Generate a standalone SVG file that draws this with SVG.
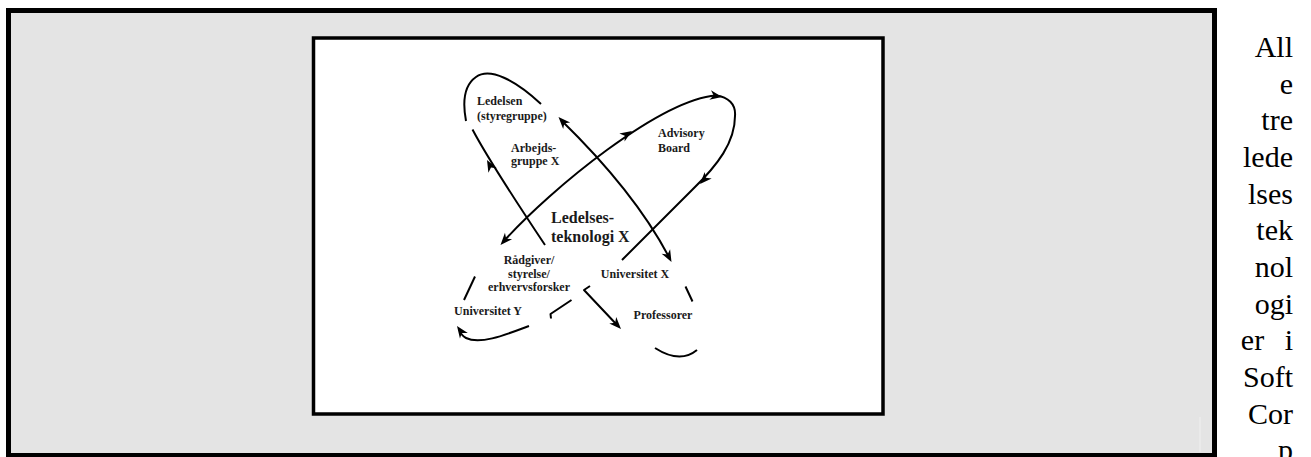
<svg xmlns="http://www.w3.org/2000/svg" xmlns:xlink="http://www.w3.org/1999/xlink" width="1311" height="457" viewBox="0 0 1311 457">
<style>
.lbl{font-family:"Liberation Serif","Times New Roman",serif;font-weight:bold;font-size:12px;fill:#1a1a1a}
.big{font-family:"Liberation Serif","Times New Roman",serif;font-weight:bold;font-size:16px;fill:#1a1a1a}
.side{font-family:"Liberation Serif","Times New Roman",serif;font-size:30px;fill:#000;text-anchor:end}
.ln{fill:none;stroke:#000;stroke-width:2;stroke-linecap:butt;stroke-linejoin:round}
.ah{fill:#000;stroke:none}
</style>
<defs>
<path id="ah" class="ah" d="M0,0 L-12,-4.8 L-8.5,0 L-12,4.8 Z"/>
</defs>
<rect x="0" y="0" width="1311" height="457" fill="#fff"/>
<rect id="outer-frame" x="8.5" y="10.5" width="1206" height="445" fill="#e4e4e4" stroke="#000" stroke-width="5"/>
<line x1="1200" y1="417" x2="1200" y2="452" stroke="#f0f0f0" stroke-width="1"/>
<rect id="inner-frame" x="313.5" y="38" width="569.5" height="376" fill="#fff" stroke="#000" stroke-width="3.5"/>

<g id="connectors">
  <!-- loop A (top-left to bottom-right) -->
  <path class="ln" d="M541,104 C515,80 490,67 476,77 C463,86 463,105 466,121"/>
  <path class="ln" d="M472.5,129.5 Q489.4,161.6 545,245"/>
  <path class="ln" d="M561,120 C602,160 643,207 670,259"/>
  <path class="ln" d="M590,286 L584,290 L618,326"/>
  <path class="ln" d="M685.5,286.5 L692.5,301.5"/>
  <path class="ln" d="M655,348 Q680,364 697,350"/>
  <!-- loop B (top-right to bottom-left) -->
  <path class="ln" d="M503,242 C553,187 660,100 716,95.5 C728,97 736,104 735,116 C735,142 718,165 692,190 L622,260"/>
  <path class="ln" d="M475,276.5 L464,300"/>
  <path class="ln" d="M529,326 C505,335 480,345 466,338 C462,336 460,332 459,329"/>
  <path class="ln" d="M571.5,300 L550.5,314 L551,318.5"/>
  <!-- arrowheads -->
  <use xlink:href="#ah" href="#ah" transform="translate(487,160) rotate(-118)"/>
  <use xlink:href="#ah" href="#ah" transform="translate(558.5,117) rotate(-133)"/>
  <use xlink:href="#ah" href="#ah" transform="translate(671.5,262) rotate(62)"/>
  <use xlink:href="#ah" href="#ah" transform="translate(621,329) rotate(46.5)"/>
  <use xlink:href="#ah" href="#ah" transform="translate(500.5,245) rotate(132)"/>
  <use xlink:href="#ah" href="#ah" transform="translate(632,131) rotate(-33)"/>
  <use xlink:href="#ah" href="#ah" transform="translate(722,97) rotate(10)"/>
  <use xlink:href="#ah" href="#ah" transform="translate(700,184) rotate(133)"/>
  <use xlink:href="#ah" href="#ah" transform="translate(457,326) rotate(-125)"/>
</g>

<g id="n-ledelsen"><text class="lbl" x="477" y="105">Ledelsen</text><text class="lbl" x="477" y="120">(styregruppe)</text></g>
<g id="n-arbejdsgruppe"><text class="lbl" x="511" y="151.5">Arbejds-</text><text class="lbl" x="511" y="165">gruppe X</text></g>
<g id="n-advisory"><text class="lbl" x="658" y="137">Advisory</text><text class="lbl" x="658" y="151.5">Board</text></g>
<g id="n-ledelsesteknologi"><text class="big" x="551" y="222.5">Ledelses-</text><text class="big" x="551" y="241.5">teknologi X</text></g>
<g id="n-raadgiver"><text class="lbl" x="529" y="264" text-anchor="middle">Rådgiver/</text><text class="lbl" x="529" y="277.5" text-anchor="middle">styrelse/</text><text class="lbl" x="529" y="291" text-anchor="middle">erhvervsforsker</text></g>
<g id="n-univx"><text class="lbl" x="635" y="277.5" text-anchor="middle">Universitet X</text></g>
<g id="n-univy"><text class="lbl" x="488" y="315" text-anchor="middle">Universitet Y</text></g>
<g id="n-professorer"><text class="lbl" x="663" y="319" text-anchor="middle">Professorer</text></g>

<g id="side-text">
  <text class="side" x="1293" y="57">All</text>
  <text class="side" x="1293" y="93.7">e</text>
  <text class="side" x="1293" y="130.3">tre</text>
  <text class="side" x="1293" y="167">lede</text>
  <text class="side" x="1293" y="203.7">lses</text>
  <text class="side" x="1293" y="240.3">tek</text>
  <text class="side" x="1293" y="277">nol</text>
  <text class="side" x="1293" y="313.7">ogi</text>
  <text class="side" x="1293" y="350.3" word-spacing="13">er i</text>
  <text class="side" x="1293" y="387">Soft</text>
  <text class="side" x="1293" y="423.7">Cor</text>
  <text class="side" x="1293" y="460.3">p</text>
</g>
</svg>
